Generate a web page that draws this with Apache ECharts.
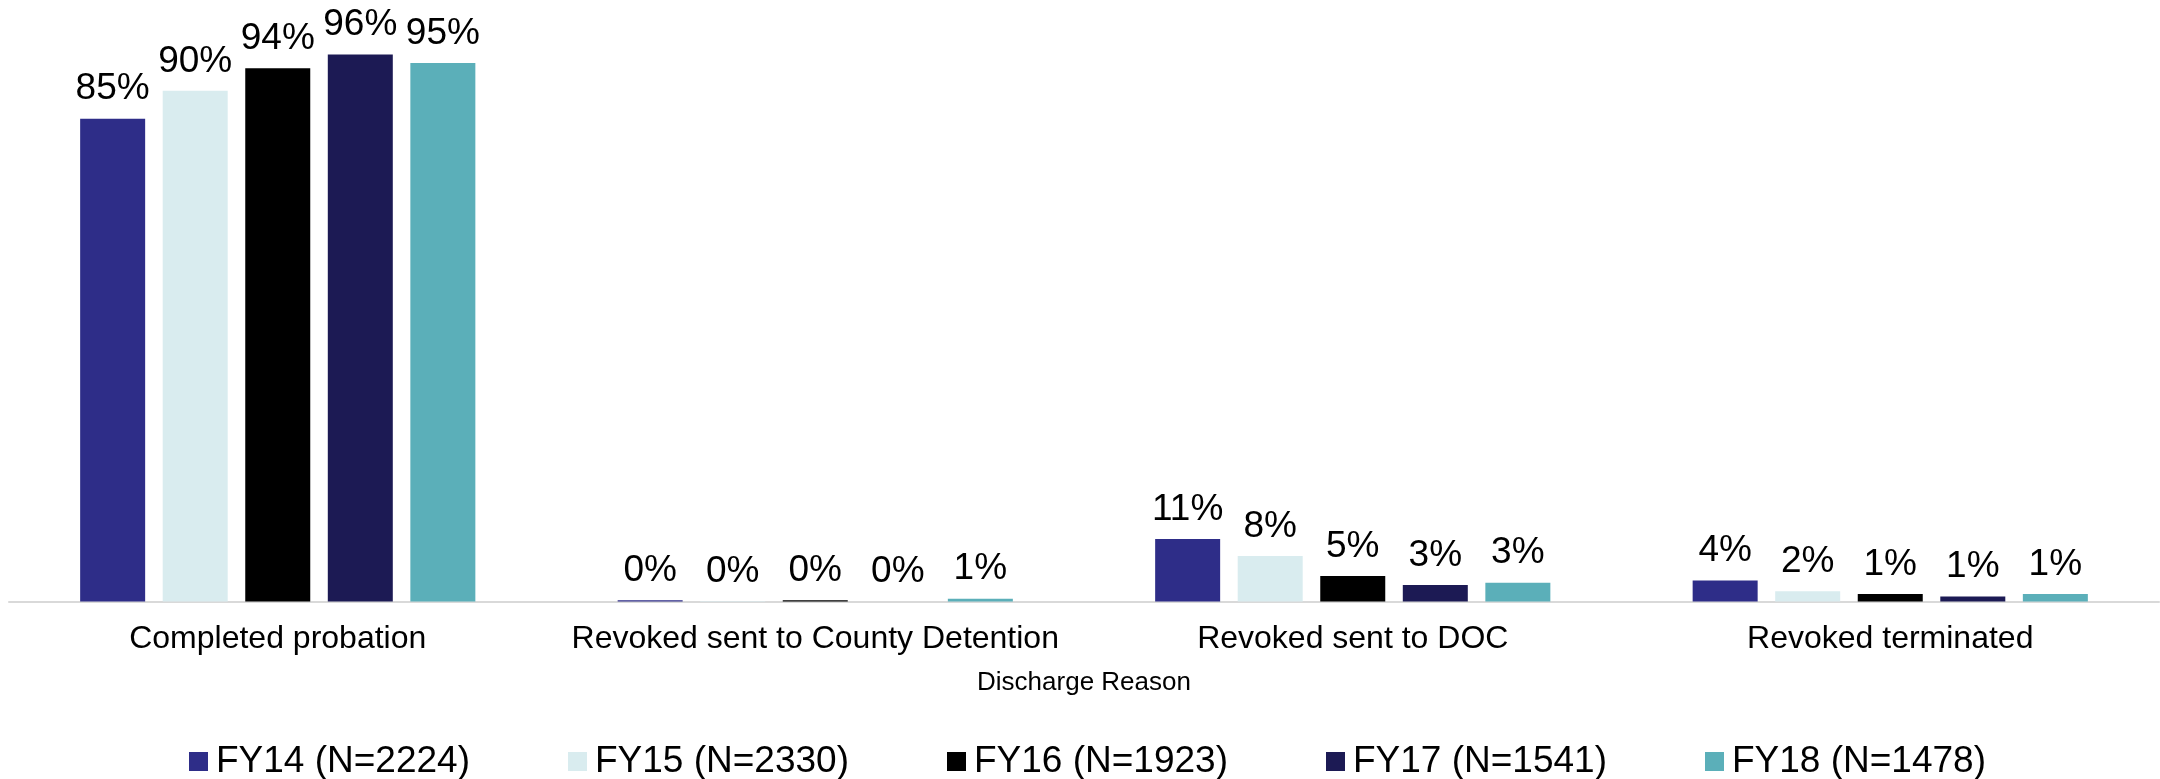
<!DOCTYPE html>
<html>
<head>
<meta charset="utf-8">
<script src="https://cdn.jsdelivr.net/npm/echarts@6/dist/echarts.min.js"></script>
<style>
  html, body { margin: 0; padding: 0; background: #fff; }
  #charts { width: 2160px; height: 779px; }
</style>
</head>
<body>
<div id="charts"></div>
<script>
// discharge reasons on the x axis
var reasons = ['Completed probation', 'Revoked sent to County Detention', 'Revoked sent to DOC', 'Revoked terminated'];
var years = ['FY14 (N=2224)', 'FY15 (N=2330)', 'FY16 (N=1923)', 'FY17 (N=1541)', 'FY18 (N=1478)'];
var colors = ['#2e2d88', '#d9ecef', '#000000', '#1c1a54', '#5bafb9'];

// percent of discharges, per fiscal year
var fy14 = [85.0, 0.2, 11.0, 3.7];
var fy15 = [89.9, 0.1, 8.0, 1.8];
var fy16 = [93.9, 0.2, 4.5, 1.3];
var fy17 = [96.3, 0.0, 2.9, 0.9];
var fy18 = [94.8, 0.5, 3.3, 1.3];

var myChart = echarts.init(document.getElementById('charts'));
var font = '"Liberation Sans", Arial, sans-serif';

var seriesList = [];
[fy14, fy15, fy16, fy17, fy18].forEach(function (vals, i) {
    seriesList.push({
        type: 'bar',
        name: years[i],
        data: vals,
        barWidth: 65,
        barGap: '27%',
        itemStyle: { color: colors[i] },
        label: {
            show: true,
            position: 'top',
            distance: 11,
            color: '#000',
            fontSize: 37,
            fontFamily: font,
            formatter: function (p) {
                return Math.round(p.value) + '%';
            }
        }
    });
});

var option = {
    animation: false,
    color: colors,
    grid: { left: 9, right: 1, top: 33.5, bottom: 177.5, containLabel: false },
    legend: {
        top: 738,
        left: 184,
        icon: 'rect',
        itemWidth: 19,
        itemHeight: 19,
        itemGap: 98,
        textStyle: { fontSize: 37, fontFamily: font, color: '#000', padding: [0, 0, 0, 3] },
        data: years
    },
    xAxis: {
        type: 'category',
        data: reasons,
        name: 'Discharge Reason',
        nameLocation: 'middle',
        nameGap: 68,
        nameTextStyle: { fontSize: 26, fontFamily: font, color: '#000' },
        axisLine: { lineStyle: { color: '#d9d9d9', width: 2 } },
        axisTick: { show: false },
        axisLabel: { fontSize: 32, fontFamily: font, color: '#000', margin: 22, interval: 0 }
    },
    yAxis: {
        type: 'value',
        min: 0,
        max: 100,
        show: false
    },
    series: seriesList
};
myChart.setOption(option);
</script>
</body>
</html>
